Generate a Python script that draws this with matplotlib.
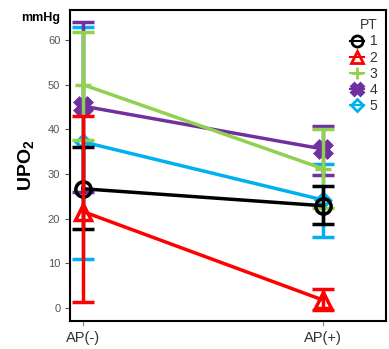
import matplotlib
matplotlib.use("Agg")
import matplotlib.pyplot as plt
from matplotlib.lines import Line2D

plt.rcParams['font.family'] = ['Liberation Sans', 'DejaVu Sans']

conditions = ["AP(-)", "AP(+)"]
patients = ["1", "2", "3", "4", "5"]
means = {
    "1": [26.7, 22.9],
    "2": [21.6, 1.8],
    "3": [50.0, 31.2],
    "4": [45.2, 35.6],
    "5": [37.2, 24.2],
}
lows = {
    "1": [17.8, 18.8],
    "2": [1.3, -0.4],
    "3": [37.6, 22.5],
    "4": [26.0, 29.7],
    "5": [11.0, 16.0],
}
highs = {
    "1": [36.0, 27.4],
    "2": [43.0, 4.2],
    "3": [61.8, 40.0],
    "4": [64.0, 40.8],
    "5": [63.0, 32.2],
}
colors = {"1": "#000000", "2": "#ff0000", "3": "#92d050", "4": "#7030a0", "5": "#00b0f0"}
markers = {"1": "o", "2": "^", "3": "+", "4": "X", "5": "D"}

fig = plt.figure(figsize=(3.89, 3.49), dpi=100)
ax = fig.add_axes([0.18, 0.0802, 0.812, 0.891])

x = [0, 1]
order = ["5", "4", "3", "1", "2"]
zo = {"5": 2, "4": 3, "3": 4, "1": 5, "2": 6}
for p in order:
    m = means[p]
    yerr = [[m[i] - lows[p][i] for i in range(2)], [highs[p][i] - m[i] for i in range(2)]]
    c = colors[p]
    filled = markers[p] in ("X", "+")
    ax.errorbar(x, m, yerr=yerr, color=c, lw=2.5, elinewidth=2.5, capsize=8, capthick=2.5,
                marker=markers[p], markersize=11 if markers[p] != "D" else 7,
                markerfacecolor=c if filled else "none", markeredgecolor=c, markeredgewidth=2.5,
                zorder=zo[p])

ax.set_xlim(-0.054, 1.2625)
ax.set_ylim(-2.9, 66.7)
ax.set_xticks(x)
ax.set_xticklabels(conditions, fontsize=10.5, color="#333333")
ax.set_yticks(range(0, 61, 10))
ax.tick_params(axis='y', labelsize=8, colors="#555555", labelcolor="#555555")
ax.tick_params(axis='x', colors="#888888", labelcolor="#333333")
for s in ax.spines.values():
    s.set_linewidth(1.5)
    s.set_color("black")
ax.set_ylabel("UPO$_\\mathregular{2}$", fontsize=14, fontweight="bold", labelpad=8)
fig.text(0.105, 0.948, "mmHg", fontsize=9, fontweight="bold", ha="center", va="center", zorder=10)

handles = [Line2D([0], [0], color=colors[p], marker=markers[p], lw=1.5,
                  markersize=8 if markers[p] != "D" else 6,
                  markerfacecolor=colors[p] if markers[p] in ("X", "+") else "none",
                  markeredgecolor=colors[p], markeredgewidth=2) for p in patients]
leg = ax.legend(handles, patients, title="PT", loc="upper right", frameon=False,
                fontsize=10, title_fontsize=10, handlelength=1.0, handletextpad=0.4,
                labelspacing=0.15, borderaxespad=0.2)
leg._legend_box.align = "right"
for t in leg.get_texts():
    t.set_color("#333333")
leg.get_title().set_color("#333333")

fig.savefig("out.png", dpi=100)
